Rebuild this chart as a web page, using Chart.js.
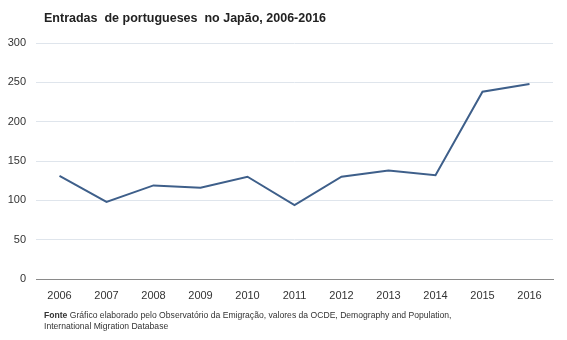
<!DOCTYPE html>
<html lang="pt">
<head>
    <meta charset="UTF-8">
    <title>Entradas de portugueses no Japão</title>
    <script src="https://cdn.jsdelivr.net/npm/chart.js"></script>
    <style>
        body { margin: 0; background: #fff; font-family: "Liberation Sans", Arial, sans-serif; }
        #wrap { position: relative; width: 567px; height: 340px; }
        #chart { position: absolute; left: 0; top: 0; }
        .titulo { position: absolute; left: 44px; top: 11px; font-size: 12.5px; font-weight: bold; color: #222; white-space: pre; }
        .fonte { position: absolute; left: 44px; top: 310px; font-size: 8.6px; line-height: 10.5px; color: #333; }
    </style>
</head>
<body>
<div id="wrap">
    <canvas id="chart" width="567" height="340"></canvas>
    <div class="titulo">Entradas  de portugueses  no Japão, 2006-2016</div>
    <div class="fonte"><b>Fonte</b>  Gráfico elaborado pelo Observatório da Emigração, valores da OCDE, Demography and Population,<br>International Migration  Database</div>
</div>

<script>
    // anos e entradas
    const anos = ['2006', '2007', '2008', '2009', '2010', '2011', '2012', '2013', '2014', '2015', '2016'];
    const entradas = [131, 98, 119, 116, 130, 94, 130, 138, 132, 238, 248];

    const ctx = document.getElementById('chart').getContext('2d');
    new Chart(ctx, {
        type: 'line',
        data: {
            labels: anos,
            datasets: [{
                label: 'Entradas',
                data: entradas,
                borderColor: '#3e5f8a',
                borderWidth: 2,
                pointRadius: 0,
                tension: 0,
                fill: false
            }]
        },
        options: {
            responsive: false,
            animation: false,
            layout: { padding: { left: 0, right: 14, top: 43, bottom: 36 } },
            plugins: {
                legend: { display: false },
                tooltip: { enabled: false }
            },
            scales: {
                x: {
                    offset: true,
                    grid: { display: false },
                    border: { color: '#8a8a8a', width: 1 },
                    ticks: {
                        color: '#333',
                        font: { family: 'Liberation Sans', size: 11 },
                        padding: 2,
                        maxRotation: 0
                    },
                    afterFit: (s) => { s.height = 25; }
                },
                y: {
                    min: 0,
                    max: 300,
                    grid: { color: '#dfe5ec', drawTicks: false },
                    border: { display: false },
                    ticks: {
                        stepSize: 50,
                        color: '#333',
                        font: { family: 'Liberation Sans', size: 11 },
                        padding: 10
                    },
                    afterFit: (s) => { s.width = 36; }
                }
            }
        }
    });
</script>
</body>
</html>
